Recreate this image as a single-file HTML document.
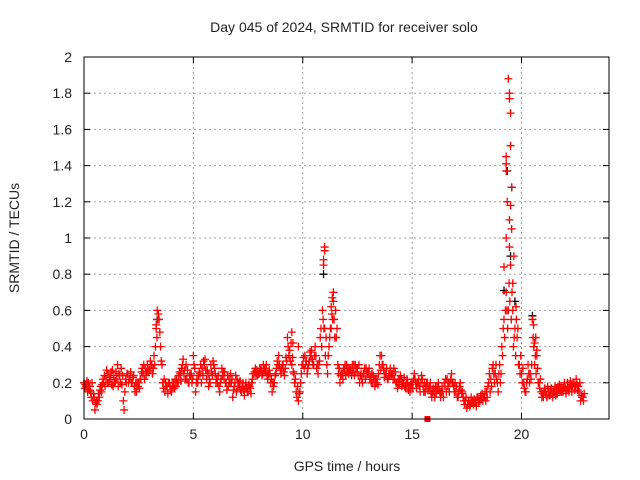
<!DOCTYPE html>
<html><head><meta charset="utf-8"><style>
html,body{margin:0;padding:0;background:#fff;}
svg{display:block;font-family:"Liberation Sans",sans-serif;}
</style></head><body>
<svg id="chart" width="640" height="480" viewBox="0 0 640 480">
<rect x="0" y="0" width="640" height="480" fill="#fff"/>
<text x="344" y="32" text-anchor="middle" font-size="14" fill="#222">Day 045 of 2024, SRMTID for receiver solo</text>
<text x="347" y="471" text-anchor="middle" font-size="14" fill="#222">GPS time / hours</text>
<text transform="translate(19,238) rotate(-90)" text-anchor="middle" font-size="14" fill="#222">SRMTID / TECUs</text>
<g id="grid"></g>
<g id="ticks"></g>
<g id="marks"></g>
<rect x="84" y="57" width="525" height="362" fill="none" stroke="#000" stroke-width="1"/>
</svg>
<script>
const xTicks=[0,5,10,15,20];
const yTicks=[0,0.2,0.4,0.6,0.8,1,1.2,1.4,1.6,1.8,2];
const yTickLabels=["0","0.2","0.4","0.6","0.8","1","1.2","1.4","1.6","1.8","2"];
const tStart=0, tStep=0.1;
const mainValues=[
0.2,0.18,0.2,0.15,0.1,0.05,0.08,0.12,0.15,0.2,
0.22,0.25,0.22,0.27,0.2,0.22,0.25,0.28,0.1,0.22,
0.25,0.22,0.2,0.18,0.15,0.2,0.22,0.25,0.28,0.3,
0.27,0.3,0.35,0.5,0.58,0.4,0.2,0.15,0.18,0.2,
0.15,0.2,0.18,0.2,0.25,0.3,0.27,0.22,0.2,0.25,
0.35,0.15,0.2,0.25,0.28,0.3,0.22,0.18,0.3,0.32,
0.25,0.2,0.15,0.28,0.22,0.2,0.18,0.25,0.12,0.2,
0.22,0.18,0.15,0.16,0.2,0.15,0.17,0.22,0.26,0.27,
0.25,0.28,0.3,0.26,0.22,0.25,0.15,0.2,0.28,0.35,
0.25,0.3,0.28,0.45,0.38,0.3,0.25,0.15,0.1,0.2,
0.3,0.35,0.25,0.32,0.38,0.3,0.35,0.25,0.45,0.6,
0.5,0.3,0.4,0.5,0.65,0.6,0.3,0.2,0.25,0.27,
0.3,0.25,0.27,0.26,0.3,0.28,0.2,0.22,0.25,0.28,
0.25,0.23,0.2,0.18,0.22,0.3,0.35,0.27,0.25,0.22,
0.28,0.25,0.22,0.2,0.19,0.22,0.2,0.17,0.2,0.15,
0.2,0.25,0.17,0.22,0.2,0.18,0.15,0.2,0.18,0.12,
0.15,0.14,0.2,0.12,0.15,0.18,0.22,0.15,0.25,0.18,
0.15,0.12,0.2,0.15,0.08,0.06,0.1,0.12,0.08,0.1,
0.12,0.1,0.14,0.12,0.15,0.2,0.22,0.3,0.25,0.2,
0.3,0.4,0.55,0.7,0.6,0.85,0.6,0.5,0.45,0.3,
0.25,0.2,0.15,0.3,0.25,0.55,0.3,0.35,0.2,0.15,
0.12,0.15,0.18,0.13,0.14,0.15,0.17,0.16,0.18,0.15,
0.17,0.2,0.18,0.15,0.2,0.22,0.18,0.1,0.12];
const secondValues=[
0.17,0.21,0.16,0.12,0.14,0.09,0.1,0.16,0.19,0.24,
0.27,0.2,0.26,0.18,0.21,0.3,0.24,0.19,0.05,0.2,
0.2,0.26,0.23,0.15,0.2,0.17,0.26,0.3,0.24,0.26,
0.32,0.25,0.3,0.45,0.55,0.32,0.17,0.2,0.14,0.18,
0.2,0.17,0.22,0.24,0.21,0.33,0.22,0.27,0.24,0.2,
0.3,0.2,0.24,0.3,0.24,0.33,0.27,0.22,0.26,0.3,
0.2,0.24,0.2,0.24,0.26,0.16,0.22,0.2,0.16,0.24,
0.18,0.21,0.18,0.13,0.17,0.19,0.14,0.25,0.28,0.24,
0.28,0.24,0.27,0.3,0.25,0.2,0.2,0.24,0.32,0.3,
0.28,0.26,0.34,0.4,0.32,0.34,0.2,0.12,0.14,0.25,
0.34,0.3,0.28,0.37,0.33,0.35,0.28,0.3,0.5,0.55,
0.35,0.25,0.45,0.58,0.55,0.45,0.25,0.24,0.22,0.3,
0.26,0.28,0.24,0.3,0.26,0.24,0.24,0.2,0.28,0.25,
0.28,0.2,0.24,0.22,0.19,0.35,0.3,0.23,0.28,0.25,
0.24,0.22,0.26,0.17,0.22,0.18,0.23,0.2,0.16,0.19,
0.17,0.22,0.2,0.18,0.24,0.15,0.18,0.16,0.2,0.15,
0.12,0.18,0.16,0.15,0.12,0.22,0.18,0.2,0.2,0.15,
0.18,0.15,0.16,0.12,0.1,0.08,0.07,0.09,0.11,0.07,
0.09,0.13,0.1,0.15,0.12,0.25,0.18,0.25,0.3,0.15,
0.2,0.35,0.45,0.6,0.75,0.55,0.4,0.35,0.5,0.25,
0.2,0.17,0.2,0.25,0.22,0.45,0.35,0.28,0.17,0.12,
0.15,0.13,0.15,0.16,0.12,0.18,0.14,0.19,0.15,0.18,
0.14,0.17,0.21,0.18,0.16,0.19,0.15,0.13,0.1];
const thirdValues=[
0.19,0.15,0.18,0.2,0.12,0.1,0.14,0.18,0.22,0.18,
0.2,0.23,0.19,0.24,0.26,0.18,0.2,0.24,0.15,0.25,
0.22,0.2,0.24,0.2,0.18,0.22,0.28,0.22,0.26,0.27,
0.3,0.28,0.4,0.55,0.48,0.3,0.22,0.18,0.2,0.16,
0.18,0.22,0.2,0.26,0.28,0.25,0.3,0.2,0.24,0.22,
0.28,0.22,0.26,0.2,0.32,0.27,0.25,0.2,0.24,0.28,
0.22,0.18,0.22,0.26,0.2,0.24,0.2,0.22,0.18,0.15,
0.2,0.16,0.2,0.18,0.15,0.18,0.2,0.25,0.24,0.25,
0.27,0.25,0.28,0.24,0.27,0.22,0.18,0.25,0.3,0.27,
0.3,0.24,0.32,0.35,0.42,0.26,0.22,0.18,0.15,0.3,
0.28,0.32,0.3,0.35,0.3,0.4,0.3,0.32,0.4,0.5,
0.45,0.35,0.5,0.55,0.45,0.5,0.28,0.25,0.28,0.24,
0.28,0.27,0.3,0.24,0.28,0.3,0.25,0.25,0.22,0.26,
0.22,0.25,0.22,0.2,0.25,0.27,0.3,0.25,0.22,0.24,
0.25,0.28,0.2,0.22,0.24,0.2,0.18,0.22,0.18,0.2,
0.22,0.2,0.2,0.15,0.22,0.2,0.2,0.17,0.14,0.17,
0.18,0.16,0.15,0.18,0.2,0.15,0.2,0.22,0.2,0.2,
0.12,0.18,0.14,0.1,0.12,0.1,0.08,0.1,0.09,0.12,
0.1,0.11,0.12,0.1,0.18,0.15,0.28,0.2,0.22,0.25,
0.25,0.5,0.6,0.5,0.65,0.7,0.45,0.55,0.3,0.35,
0.28,0.15,0.22,0.2,0.3,0.4,0.25,0.2,0.22,0.14,
0.17,0.12,0.13,0.17,0.15,0.13,0.18,0.15,0.16,0.2,
0.16,0.15,0.19,0.2,0.18,0.16,0.2,0.12,0.14];
const spikeTimes=[19.4,19.45,19.45,19.5,19.5,19.3,19.3,19.3,19.55,19.35,19.5,19.45,19.55,19.3,19.45,11.0,11.0,10.95,10.95,11.4,11.35,11.3,3.35,3.3,9.5,9.55,9.8,20.5,20.55,20.6,20.7,20.65,19.2,19.6,19.65,19.75,15.7];
const spikeValues=[1.88,1.8,1.77,1.69,1.51,1.45,1.41,1.37,1.28,1.2,1.18,1.1,1.05,1.0,0.95,0.95,0.93,0.88,0.85,0.7,0.67,0.62,0.6,0.52,0.48,0.42,0.4,0.55,0.52,0.42,0.38,0.45,0.84,0.75,0.9,0.62,0.0];
const blackTimes=[10.95,19.35,19.55,19.2,19.5,3.35,20.5,19.7];
const blackValues=[0.8,1.37,1.28,0.71,0.9,0.55,0.57,0.65];

const NS='http://www.w3.org/2000/svg';
const L=84,R=609,T=57,B=419;
function xs(t){return L+(t-0)/24*(R-L);}
function ys(v){return B-(v/2)*(B-T);}
const grid=document.getElementById('grid'),ticks=document.getElementById('ticks'),marks=document.getElementById('marks');
function mk(tag,attrs,parent){const e=document.createElementNS(NS,tag);for(const k in attrs)e.setAttribute(k,attrs[k]);parent.appendChild(e);return e;}
xTicks.forEach(t=>{
 const x=xs(t);
 if(t>0){const g=mk('line',{x1:x,x2:x,y1:T,y2:B,stroke:'#a0a0a0','stroke-dasharray':'2,3'},grid);
 
 }
 const tl=mk('text',{x:x,y:B+20,'text-anchor':'middle','font-size':'14',fill:'#222'},ticks);
 tl.textContent=String(t);
 
 
 mk('line',{x1:x,x2:x,y1:B,y2:B-6,stroke:'#000'},ticks);
 mk('line',{x1:x,x2:x,y1:T,y2:T+6,stroke:'#000'},ticks);
});
yTicks.forEach((v,i)=>{
 const y=ys(v);
 if(v>0&&v<2){const g=mk('line',{x1:L,x2:R,y1:y,y2:y,stroke:'#a0a0a0','stroke-dasharray':'2,3'},grid);
 
 }
 const tl=mk('text',{x:L-12,y:y+5,'text-anchor':'end','font-size':'14',fill:'#222'},ticks);
 tl.textContent=yTickLabels[i];
 
 
 mk('line',{x1:L,x2:L+6,y1:y,y2:y,stroke:'#000'},ticks);
 mk('line',{x1:R,x2:R-6,y1:y,y2:y,stroke:'#000'},ticks);
});
function plus(t,v,color,name){
 const x=xs(t),y=ys(v);
 const p=mk('path',{d:`M${x-4},${y}h8M${x},${y-4}v8`,stroke:color,'stroke-width':'1.3',fill:'none'},marks);
 
 
}
blackTimes.forEach((t,i)=>plus(t,blackValues[i],'#000','black-point'));
mainValues.forEach((v,i)=>plus(tStart+i*tStep,v,'#ff0000','srmtid-point'));
secondValues.forEach((v,i)=>plus(tStart+i*tStep+0.033,v,'#ff0000','srmtid-point'));
thirdValues.forEach((v,i)=>plus(tStart+i*tStep+0.066,v,'#ff0000','srmtid-point'));
spikeTimes.forEach((t,i)=>{
 if(spikeValues[i]===0){const r=mk('rect',{x:xs(t)-3,y:ys(0)-3,width:6,height:6,fill:'#ff0000'},marks);
 
 }
 else plus(t,spikeValues[i],'#ff0000','spike-point');
});
</script>
</body></html>
